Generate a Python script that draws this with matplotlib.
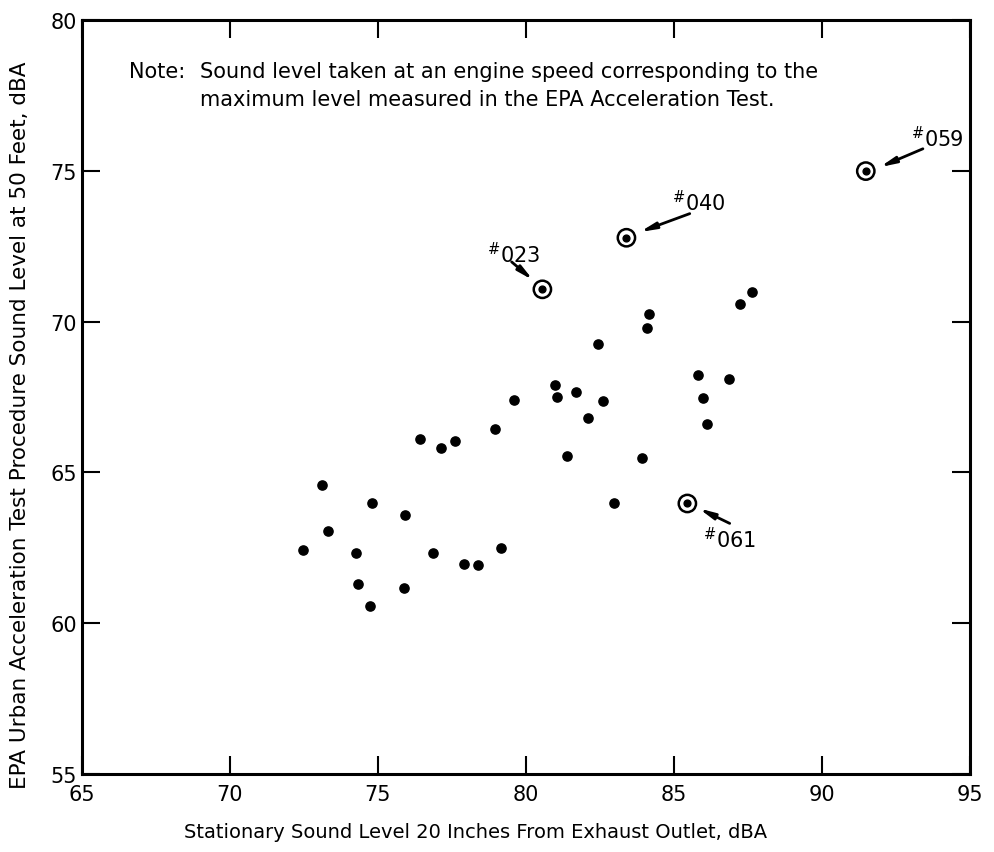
import matplotlib
matplotlib.use("Agg")
import matplotlib.pyplot as plt

# Regular measurements
x_pts = [78.95, 76.41, 77.13, 77.59, 73.12, 74.79, 75.91, 73.30, 72.46, 74.25,
         76.86, 77.90, 78.39, 79.16, 74.33, 75.88, 74.72,
         87.65, 87.25, 84.15, 84.08, 82.43, 85.83, 86.88, 80.98, 81.04,
         81.70, 79.60, 82.61, 85.99, 82.10, 86.11, 81.39, 83.91, 82.98]
y_pts = [66.43, 66.12, 65.82, 66.04, 64.59, 64.00, 63.59, 63.07, 62.44, 62.33,
         62.32, 61.96, 61.93, 62.48, 61.29, 61.17, 60.56,
         70.98, 70.57, 70.25, 69.80, 69.25, 68.24, 68.10, 67.90, 67.51,
         67.66, 67.39, 67.36, 67.48, 66.80, 66.60, 65.56, 65.49, 64.00]

# Highlighted vehicles
hl_labels = ["023", "040", "059", "061"]
hl_x = [80.56, 83.40, 91.49, 85.46]
hl_y = [71.07, 72.78, 74.99, 63.97]
# arrow tail and label positions
arrow_tail_x = [79.52, 85.54, 93.42, 86.89]
arrow_tail_y = [71.98, 73.58, 75.73, 63.31]
arrow_head_x = [80.25, 83.85, 91.96, 85.84]
arrow_head_y = [71.37, 72.97, 75.12, 63.81]
label_x = [79.59, 85.84, 93.89, 86.90]
label_y = [72.25, 73.97, 76.09, 62.81]

x_ticks = [65, 70, 75, 80, 85, 90, 95]
y_ticks = [55, 60, 65, 70, 75, 80]

fig = plt.figure(figsize=(9.94, 8.53), dpi=100)
ax = fig.add_axes([0.0825, 0.0914, 0.893, 0.884])

ax.scatter(x_pts, y_pts, s=44, color="black", zorder=3)
ax.scatter(hl_x, hl_y, s=24, color="black", zorder=3)
ax.scatter(hl_x, hl_y, s=155, facecolors="none", edgecolors="black",
           linewidths=1.8, zorder=3)

for lab, tx, ty, hx, hy, lx, ly in zip(hl_labels, arrow_tail_x, arrow_tail_y,
                                       arrow_head_x, arrow_head_y, label_x, label_y):
    ax.annotate("", xy=(hx, hy), xytext=(tx, ty),
                arrowprops=dict(arrowstyle="-|>,head_length=0.9,head_width=0.18",
                                color="black", lw=2.0, shrinkA=0, shrinkB=0))
    ax.text(lx, ly, r"$^{\#}$" + lab, fontsize=15, ha="center", va="center")

ax.set_xlim(65, 95)
ax.set_ylim(55, 80)
ax.set_xticks(x_ticks)
ax.set_yticks(y_ticks)
ax.tick_params(direction="in", length=13, width=1.5, labelsize=15,
               top=True, right=True)
ax.tick_params(axis="x", pad=7)
for sp in ax.spines.values():
    sp.set_linewidth(2.2)

ax.set_xlabel("Stationary Sound Level 20 Inches From Exhaust Outlet, dBA",
              fontsize=14, va="center")
ax.xaxis.set_label_coords(0.443, -0.076)
ax.set_ylabel("EPA Urban Acceleration Test Procedure Sound Level at 50 Feet, dBA",
              fontsize=15.5, va="center")
ax.yaxis.set_label_coords(-0.07, 0.464)

ax.text(0.053, 0.932, "Note:", transform=ax.transAxes, fontsize=15,
        ha="left", va="center")
ax.text(0.133, 0.932, "Sound level taken at an engine speed corresponding to the",
        transform=ax.transAxes, fontsize=15, ha="left", va="center")
ax.text(0.133, 0.895, "maximum level measured in the EPA Acceleration Test.",
        transform=ax.transAxes, fontsize=15, ha="left", va="center")

fig.savefig("out.png", dpi=100)
